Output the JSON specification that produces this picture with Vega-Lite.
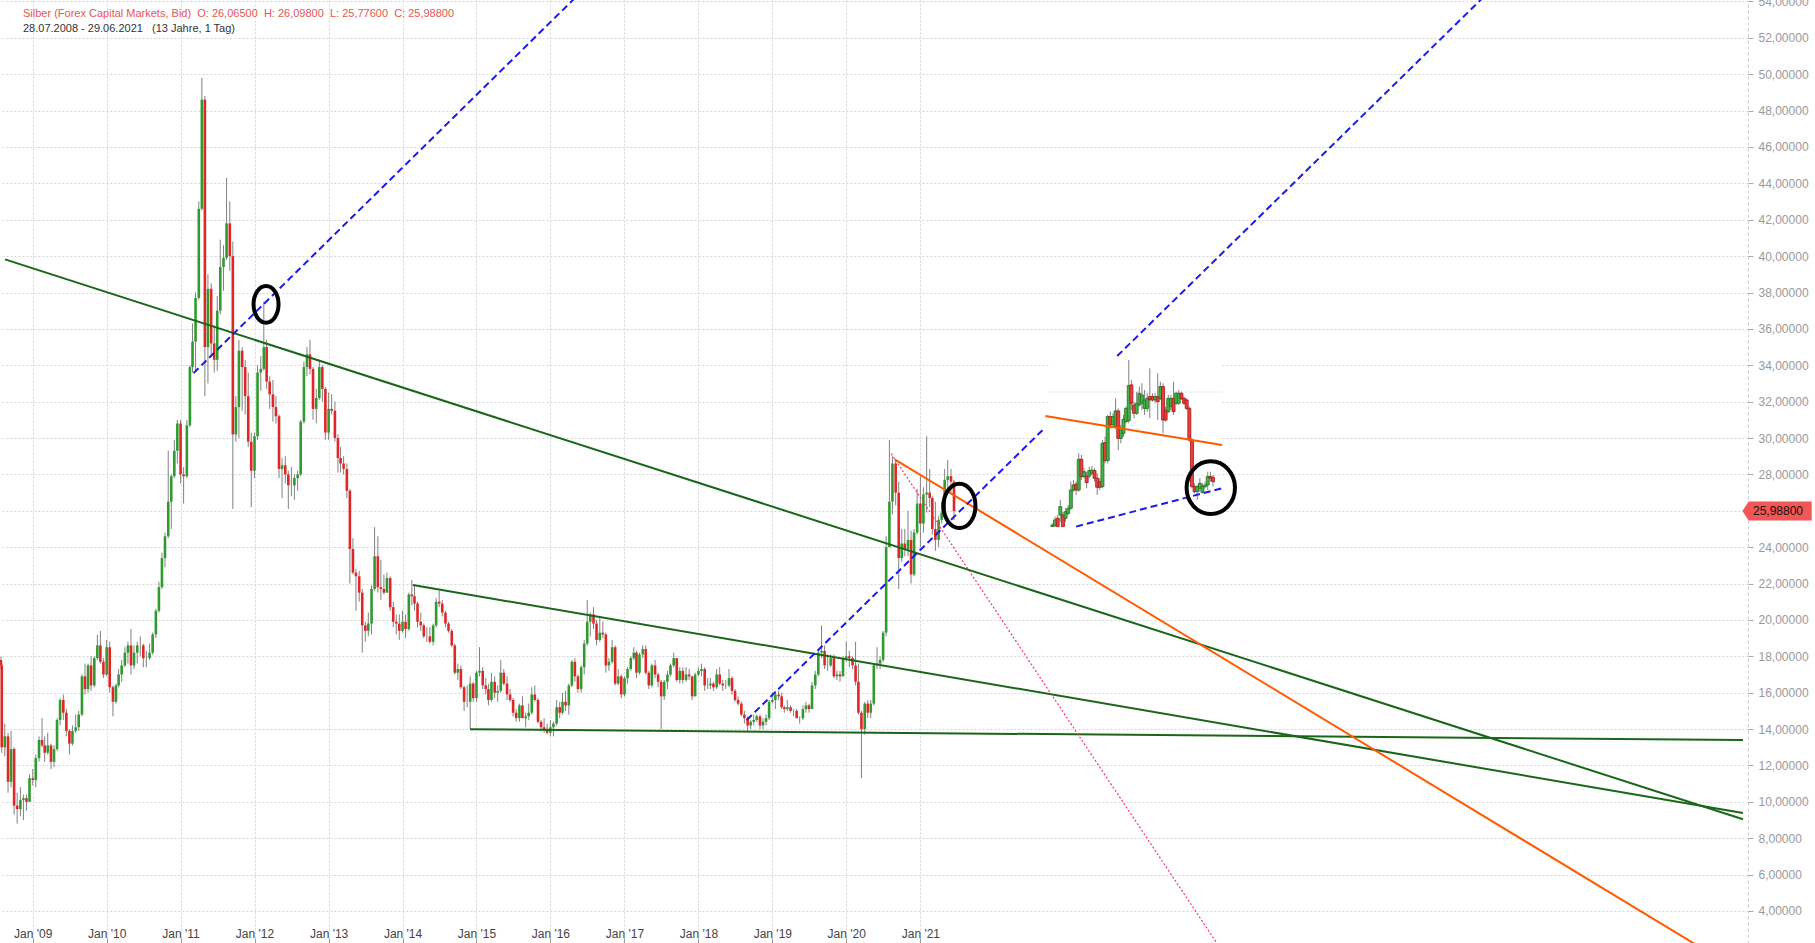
{
"$schema": "https://vega.github.io/schema/vega-lite/v6.json",
"width": 1748, "height": 943,
"autosize": {"type": "none"},
"padding": {"left": 0, "top": 0, "right": 67, "bottom": 0},
"background": "white",
"title": {"text": "Silber (Forex Capital Markets, Bid)\u00a0\u00a0O: 26,06500\u00a0\u00a0H: 26,09800\u00a0\u00a0L: 25,77600\u00a0\u00a0C: 25,98800", "subtitle": "28.07.2008 - 29.06.2021\u00a0\u00a0\u00a0(13 Jahre, 1 Tag)", "anchor": "start", "frame": "group", "orient": "top", "offset": -39, "dx": 23, "font": "Liberation Sans", "fontSize": 11, "fontWeight": "normal", "color": "#e65454", "subtitleFont": "Liberation Sans", "subtitleFontSize": 11, "subtitleColor": "#333333", "subtitlePadding": 4},
"resolve": {"axis": {"y": "independent"}},
"datasets": {
"main": [
{"t":"2008-07-28","o":17.8,"h":18.0,"l":17.3,"c":17.5},
{"t":"2008-08-01","o":17.5,"h":17.6,"l":12.7,"c":13.0},
{"t":"2008-08-16","o":13.0,"h":14.3,"l":12.5,"c":13.6},
{"t":"2008-09-01","o":13.6,"h":13.8,"l":10.5,"c":11.1},
{"t":"2008-09-16","o":11.1,"h":13.9,"l":10.8,"c":12.9},
{"t":"2008-10-01","o":12.9,"h":13.0,"l":9.3,"c":9.8},
{"t":"2008-10-16","o":9.8,"h":10.5,"l":8.8,"c":9.6},
{"t":"2008-11-01","o":9.6,"h":10.8,"l":9.2,"c":10.1},
{"t":"2008-11-16","o":10.1,"h":10.4,"l":9.0,"c":10.2},
{"t":"2008-12-01","o":10.2,"h":10.4,"l":9.5,"c":10.0},
{"t":"2008-12-16","o":10.0,"h":11.5,"l":10.0,"c":11.3},
{"t":"2009-01-01","o":11.3,"h":11.8,"l":10.9,"c":11.2},
{"t":"2009-01-16","o":11.2,"h":12.6,"l":10.8,"c":12.4},
{"t":"2009-02-01","o":12.4,"h":13.6,"l":12.2,"c":13.4},
{"t":"2009-02-16","o":13.4,"h":14.6,"l":13.0,"c":13.1},
{"t":"2009-03-01","o":13.1,"h":13.6,"l":12.2,"c":12.7},
{"t":"2009-03-16","o":12.7,"h":13.8,"l":12.6,"c":13.1},
{"t":"2009-04-01","o":13.1,"h":13.2,"l":11.8,"c":12.2},
{"t":"2009-04-16","o":12.2,"h":13.1,"l":11.9,"c":12.9},
{"t":"2009-05-01","o":12.9,"h":14.6,"l":12.8,"c":14.5},
{"t":"2009-05-16","o":14.5,"h":15.7,"l":14.2,"c":15.6},
{"t":"2009-06-01","o":15.6,"h":15.9,"l":14.5,"c":14.9},
{"t":"2009-06-16","o":14.9,"h":15.1,"l":13.6,"c":13.9},
{"t":"2009-07-01","o":13.9,"h":14.0,"l":12.6,"c":13.2},
{"t":"2009-07-16","o":13.2,"h":14.2,"l":13.1,"c":13.9},
{"t":"2009-08-01","o":13.9,"h":14.8,"l":13.8,"c":14.1},
{"t":"2009-08-16","o":14.1,"h":15.0,"l":13.9,"c":14.8},
{"t":"2009-09-01","o":14.8,"h":17.0,"l":14.7,"c":16.9},
{"t":"2009-09-16","o":16.9,"h":17.6,"l":15.9,"c":16.2},
{"t":"2009-10-01","o":16.2,"h":17.6,"l":16.0,"c":17.5},
{"t":"2009-10-16","o":17.5,"h":18.0,"l":16.1,"c":16.4},
{"t":"2009-11-01","o":16.4,"h":18.0,"l":16.3,"c":17.9},
{"t":"2009-11-16","o":17.9,"h":19.2,"l":17.8,"c":18.6},
{"t":"2009-12-01","o":18.6,"h":19.4,"l":17.6,"c":17.7},
{"t":"2009-12-16","o":17.7,"h":17.9,"l":16.8,"c":17.0},
{"t":"2010-01-01","o":17.0,"h":18.9,"l":16.9,"c":18.5},
{"t":"2010-01-16","o":18.5,"h":18.8,"l":16.0,"c":16.3},
{"t":"2010-02-01","o":16.3,"h":16.4,"l":14.7,"c":15.5},
{"t":"2010-02-16","o":15.5,"h":16.5,"l":15.4,"c":16.4},
{"t":"2010-03-01","o":16.4,"h":17.3,"l":16.3,"c":17.0},
{"t":"2010-03-16","o":17.0,"h":17.8,"l":16.6,"c":17.5},
{"t":"2010-04-01","o":17.5,"h":18.5,"l":17.4,"c":18.2},
{"t":"2010-04-16","o":18.2,"h":18.8,"l":17.6,"c":18.6},
{"t":"2010-05-01","o":18.6,"h":19.5,"l":17.0,"c":17.5},
{"t":"2010-05-16","o":17.5,"h":18.6,"l":17.3,"c":18.2},
{"t":"2010-06-01","o":18.2,"h":18.8,"l":17.6,"c":18.6},
{"t":"2010-06-16","o":18.6,"h":19.1,"l":18.0,"c":18.6},
{"t":"2010-07-01","o":18.6,"h":18.7,"l":17.4,"c":17.9},
{"t":"2010-07-16","o":17.9,"h":18.3,"l":17.4,"c":17.9},
{"t":"2010-08-01","o":17.9,"h":18.7,"l":17.8,"c":18.2},
{"t":"2010-08-16","o":18.2,"h":19.3,"l":18.1,"c":19.2},
{"t":"2010-09-01","o":19.2,"h":20.6,"l":19.0,"c":20.5},
{"t":"2010-09-16","o":20.5,"h":22.1,"l":20.4,"c":21.8},
{"t":"2010-10-01","o":21.8,"h":23.7,"l":21.7,"c":23.4},
{"t":"2010-10-16","o":23.4,"h":24.8,"l":22.9,"c":24.6},
{"t":"2010-11-01","o":24.6,"h":29.3,"l":24.5,"c":26.5},
{"t":"2010-11-16","o":26.5,"h":28.0,"l":25.0,"c":27.9},
{"t":"2010-12-01","o":27.9,"h":29.9,"l":27.8,"c":29.3},
{"t":"2010-12-16","o":29.3,"h":31.0,"l":28.6,"c":30.8},
{"t":"2011-01-01","o":30.8,"h":31.0,"l":27.5,"c":28.0},
{"t":"2011-01-16","o":28.0,"h":28.4,"l":26.4,"c":27.9},
{"t":"2011-02-01","o":27.9,"h":31.0,"l":27.8,"c":30.7},
{"t":"2011-02-16","o":30.7,"h":34.0,"l":30.6,"c":33.9},
{"t":"2011-03-01","o":33.9,"h":36.3,"l":33.6,"c":35.3},
{"t":"2011-03-16","o":35.3,"h":38.0,"l":33.7,"c":37.7},
{"t":"2011-04-01","o":37.7,"h":43.0,"l":37.6,"c":42.6},
{"t":"2011-04-16","o":42.6,"h":49.8,"l":42.5,"c":48.6},
{"t":"2011-05-01","o":48.6,"h":48.8,"l":32.3,"c":35.0},
{"t":"2011-05-16","o":35.0,"h":39.0,"l":33.0,"c":38.2},
{"t":"2011-06-01","o":38.2,"h":38.5,"l":34.5,"c":35.2},
{"t":"2011-06-16","o":35.2,"h":36.2,"l":33.6,"c":34.3},
{"t":"2011-07-01","o":34.3,"h":37.8,"l":33.7,"c":37.0},
{"t":"2011-07-16","o":37.0,"h":40.9,"l":36.8,"c":39.4},
{"t":"2011-08-01","o":39.4,"h":40.6,"l":38.1,"c":39.9},
{"t":"2011-08-16","o":39.9,"h":44.3,"l":39.8,"c":41.8},
{"t":"2011-09-01","o":41.8,"h":43.0,"l":39.2,"c":40.0},
{"t":"2011-09-16","o":40.0,"h":40.8,"l":26.1,"c":30.2},
{"t":"2011-10-01","o":30.2,"h":32.3,"l":29.8,"c":31.7},
{"t":"2011-10-16","o":31.7,"h":35.4,"l":30.0,"c":34.8},
{"t":"2011-11-01","o":34.8,"h":35.0,"l":31.5,"c":33.9},
{"t":"2011-11-16","o":33.9,"h":34.3,"l":31.3,"c":32.3},
{"t":"2011-12-01","o":32.3,"h":33.6,"l":29.5,"c":29.8},
{"t":"2011-12-16","o":29.8,"h":30.3,"l":26.2,"c":28.2},
{"t":"2012-01-01","o":28.2,"h":30.3,"l":27.8,"c":30.1},
{"t":"2012-01-16","o":30.1,"h":34.0,"l":29.9,"c":33.6},
{"t":"2012-02-01","o":33.6,"h":34.5,"l":32.6,"c":33.8},
{"t":"2012-02-16","o":33.8,"h":37.5,"l":33.7,"c":35.0},
{"t":"2012-03-01","o":35.0,"h":35.4,"l":32.7,"c":33.1},
{"t":"2012-03-16","o":33.1,"h":33.4,"l":31.6,"c":32.4},
{"t":"2012-04-01","o":32.4,"h":33.2,"l":30.9,"c":31.7},
{"t":"2012-04-16","o":31.7,"h":32.3,"l":30.8,"c":31.2},
{"t":"2012-05-01","o":31.2,"h":31.3,"l":27.8,"c":28.3},
{"t":"2012-05-16","o":28.3,"h":28.9,"l":26.7,"c":28.5},
{"t":"2012-06-01","o":28.5,"h":29.0,"l":27.5,"c":28.0},
{"t":"2012-06-16","o":28.0,"h":28.2,"l":26.1,"c":27.4},
{"t":"2012-07-01","o":27.4,"h":28.4,"l":26.8,"c":27.4},
{"t":"2012-07-16","o":27.4,"h":28.0,"l":26.6,"c":27.8},
{"t":"2012-08-01","o":27.8,"h":28.2,"l":27.1,"c":28.0},
{"t":"2012-08-16","o":28.0,"h":31.0,"l":27.9,"c":30.9},
{"t":"2012-09-01","o":30.9,"h":34.2,"l":30.8,"c":33.9},
{"t":"2012-09-16","o":33.9,"h":35.0,"l":33.4,"c":34.6},
{"t":"2012-10-01","o":34.6,"h":35.4,"l":33.5,"c":33.8},
{"t":"2012-10-16","o":33.8,"h":33.9,"l":31.0,"c":31.6},
{"t":"2012-11-01","o":31.6,"h":32.7,"l":30.8,"c":32.2},
{"t":"2012-11-16","o":32.2,"h":34.3,"l":32.1,"c":33.9},
{"t":"2012-12-01","o":33.9,"h":34.0,"l":32.0,"c":32.7},
{"t":"2012-12-16","o":32.7,"h":32.8,"l":29.9,"c":30.3},
{"t":"2013-01-01","o":30.3,"h":32.5,"l":29.9,"c":31.6},
{"t":"2013-01-16","o":31.6,"h":32.4,"l":31.3,"c":31.5},
{"t":"2013-02-01","o":31.5,"h":32.0,"l":29.8,"c":30.0},
{"t":"2013-02-16","o":30.0,"h":30.2,"l":28.1,"c":28.9},
{"t":"2013-03-01","o":28.9,"h":29.5,"l":28.1,"c":28.6},
{"t":"2013-03-16","o":28.6,"h":29.0,"l":28.0,"c":28.3},
{"t":"2013-04-01","o":28.3,"h":28.6,"l":26.7,"c":27.1},
{"t":"2013-04-16","o":27.1,"h":27.2,"l":22.0,"c":23.9},
{"t":"2013-05-01","o":23.9,"h":24.5,"l":22.5,"c":22.6},
{"t":"2013-05-16","o":22.6,"h":22.8,"l":20.5,"c":22.4},
{"t":"2013-06-01","o":22.4,"h":22.7,"l":21.0,"c":21.5},
{"t":"2013-06-16","o":21.5,"h":21.7,"l":18.2,"c":19.7},
{"t":"2013-07-01","o":19.7,"h":19.9,"l":18.8,"c":19.4},
{"t":"2013-07-16","o":19.4,"h":20.4,"l":19.1,"c":19.8},
{"t":"2013-08-01","o":19.8,"h":21.9,"l":19.2,"c":21.7},
{"t":"2013-08-16","o":21.7,"h":25.1,"l":21.6,"c":23.5},
{"t":"2013-09-01","o":23.5,"h":24.6,"l":21.5,"c":21.8},
{"t":"2013-09-16","o":21.8,"h":23.3,"l":21.1,"c":21.7},
{"t":"2013-10-01","o":21.7,"h":22.5,"l":21.4,"c":21.5},
{"t":"2013-10-16","o":21.5,"h":22.6,"l":21.5,"c":22.3},
{"t":"2013-11-01","o":22.3,"h":22.4,"l":20.5,"c":20.7},
{"t":"2013-11-16","o":20.7,"h":21.0,"l":19.6,"c":19.9},
{"t":"2013-12-01","o":19.9,"h":20.3,"l":19.2,"c":19.8},
{"t":"2013-12-16","o":19.8,"h":20.3,"l":18.9,"c":19.4},
{"t":"2014-01-01","o":19.4,"h":20.5,"l":19.3,"c":19.9},
{"t":"2014-01-16","o":19.9,"h":20.3,"l":19.0,"c":19.5},
{"t":"2014-02-01","o":19.5,"h":21.5,"l":19.4,"c":21.4},
{"t":"2014-02-16","o":21.4,"h":22.2,"l":20.8,"c":21.3},
{"t":"2014-03-01","o":21.3,"h":21.9,"l":20.5,"c":20.9},
{"t":"2014-03-16","o":20.9,"h":21.0,"l":19.6,"c":19.9},
{"t":"2014-04-01","o":19.9,"h":20.4,"l":19.4,"c":19.7},
{"t":"2014-04-16","o":19.7,"h":19.8,"l":19.0,"c":19.1},
{"t":"2014-05-01","o":19.1,"h":19.6,"l":18.8,"c":19.1},
{"t":"2014-05-16","o":19.1,"h":19.6,"l":18.7,"c":18.8},
{"t":"2014-06-01","o":18.8,"h":19.8,"l":18.6,"c":19.7},
{"t":"2014-06-16","o":19.7,"h":21.2,"l":19.6,"c":21.0},
{"t":"2014-07-01","o":21.0,"h":21.6,"l":20.7,"c":20.9},
{"t":"2014-07-16","o":20.9,"h":21.1,"l":20.2,"c":20.4},
{"t":"2014-08-01","o":20.4,"h":20.5,"l":19.6,"c":19.8},
{"t":"2014-08-16","o":19.8,"h":19.9,"l":19.3,"c":19.4},
{"t":"2014-09-01","o":19.4,"h":19.5,"l":18.5,"c":18.6},
{"t":"2014-09-16","o":18.6,"h":18.7,"l":17.0,"c":17.1},
{"t":"2014-10-01","o":17.1,"h":17.6,"l":16.7,"c":17.3},
{"t":"2014-10-16","o":17.3,"h":17.5,"l":16.2,"c":16.3},
{"t":"2014-11-01","o":16.3,"h":16.4,"l":15.0,"c":15.5},
{"t":"2014-11-16","o":15.5,"h":16.4,"l":15.2,"c":15.5},
{"t":"2014-12-01","o":15.5,"h":16.9,"l":14.0,"c":16.5},
{"t":"2014-12-16","o":16.5,"h":16.6,"l":15.5,"c":15.7},
{"t":"2015-01-01","o":15.7,"h":17.2,"l":15.5,"c":17.1},
{"t":"2015-01-16","o":17.1,"h":18.5,"l":16.9,"c":17.2},
{"t":"2015-02-01","o":17.2,"h":17.4,"l":16.2,"c":16.4},
{"t":"2015-02-16","o":16.4,"h":16.8,"l":15.9,"c":16.2},
{"t":"2015-03-01","o":16.2,"h":16.5,"l":15.3,"c":15.6},
{"t":"2015-03-16","o":15.6,"h":17.1,"l":15.5,"c":16.6},
{"t":"2015-04-01","o":16.6,"h":16.9,"l":15.7,"c":16.0},
{"t":"2015-04-16","o":16.0,"h":16.4,"l":15.5,"c":16.1},
{"t":"2015-05-01","o":16.1,"h":17.8,"l":16.0,"c":17.1},
{"t":"2015-05-16","o":17.1,"h":17.3,"l":16.4,"c":16.5},
{"t":"2015-06-01","o":16.5,"h":16.9,"l":15.6,"c":15.9},
{"t":"2015-06-16","o":15.9,"h":16.2,"l":15.5,"c":15.6},
{"t":"2015-07-01","o":15.6,"h":15.7,"l":14.7,"c":14.9},
{"t":"2015-07-16","o":14.9,"h":15.1,"l":14.4,"c":14.6},
{"t":"2015-08-01","o":14.6,"h":15.4,"l":14.4,"c":15.3},
{"t":"2015-08-16","o":15.3,"h":15.8,"l":14.6,"c":14.6},
{"t":"2015-09-01","o":14.6,"h":14.9,"l":14.1,"c":14.7},
{"t":"2015-09-16","o":14.7,"h":15.4,"l":14.5,"c":14.9},
{"t":"2015-10-01","o":14.9,"h":16.3,"l":14.8,"c":15.9},
{"t":"2015-10-16","o":15.9,"h":16.4,"l":15.5,"c":15.6},
{"t":"2015-11-01","o":15.6,"h":15.7,"l":14.3,"c":14.4},
{"t":"2015-11-16","o":14.4,"h":14.5,"l":13.9,"c":14.1},
{"t":"2015-12-01","o":14.1,"h":14.6,"l":13.8,"c":14.0},
{"t":"2015-12-16","o":14.0,"h":14.3,"l":13.7,"c":13.8},
{"t":"2016-01-01","o":13.8,"h":14.5,"l":13.6,"c":14.1},
{"t":"2016-01-16","o":14.1,"h":14.4,"l":13.6,"c":14.3},
{"t":"2016-02-01","o":14.3,"h":15.6,"l":14.2,"c":15.2},
{"t":"2016-02-16","o":15.2,"h":15.5,"l":14.6,"c":14.9},
{"t":"2016-03-01","o":14.9,"h":16.0,"l":14.8,"c":15.5},
{"t":"2016-03-16","o":15.5,"h":16.1,"l":15.0,"c":15.3},
{"t":"2016-04-01","o":15.3,"h":16.5,"l":14.8,"c":16.4},
{"t":"2016-04-16","o":16.4,"h":17.8,"l":16.3,"c":17.7},
{"t":"2016-05-01","o":17.7,"h":17.9,"l":16.6,"c":16.9},
{"t":"2016-05-16","o":16.9,"h":17.0,"l":16.0,"c":16.2},
{"t":"2016-06-01","o":16.2,"h":17.5,"l":16.0,"c":17.4},
{"t":"2016-06-16","o":17.4,"h":18.9,"l":17.0,"c":18.7},
{"t":"2016-07-01","o":18.7,"h":21.1,"l":18.6,"c":19.9},
{"t":"2016-07-16","o":19.9,"h":20.4,"l":19.1,"c":20.3},
{"t":"2016-08-01","o":20.3,"h":20.7,"l":19.5,"c":19.8},
{"t":"2016-08-16","o":19.8,"h":20.0,"l":18.6,"c":18.9},
{"t":"2016-09-01","o":18.9,"h":20.1,"l":18.8,"c":19.3},
{"t":"2016-09-16","o":19.3,"h":19.9,"l":19.0,"c":19.2},
{"t":"2016-10-01","o":19.2,"h":19.3,"l":17.1,"c":17.5},
{"t":"2016-10-16","o":17.5,"h":17.9,"l":17.2,"c":17.7},
{"t":"2016-11-01","o":17.7,"h":18.9,"l":17.6,"c":18.5},
{"t":"2016-11-16","o":18.5,"h":18.6,"l":16.4,"c":16.5},
{"t":"2016-12-01","o":16.5,"h":17.3,"l":16.4,"c":16.9},
{"t":"2016-12-16","o":16.9,"h":17.0,"l":15.7,"c":15.9},
{"t":"2017-01-01","o":15.9,"h":16.9,"l":15.8,"c":16.8},
{"t":"2017-01-16","o":16.8,"h":17.4,"l":16.5,"c":17.3},
{"t":"2017-02-01","o":17.3,"h":18.0,"l":17.2,"c":17.9},
{"t":"2017-02-16","o":17.9,"h":18.5,"l":17.8,"c":18.2},
{"t":"2017-03-01","o":18.2,"h":18.3,"l":16.8,"c":17.1},
{"t":"2017-03-16","o":17.1,"h":18.2,"l":17.0,"c":18.1},
{"t":"2017-04-01","o":18.1,"h":18.6,"l":17.9,"c":18.4},
{"t":"2017-04-16","o":18.4,"h":18.6,"l":17.0,"c":17.1},
{"t":"2017-05-01","o":17.1,"h":17.2,"l":16.2,"c":16.4},
{"t":"2017-05-16","o":16.4,"h":17.6,"l":16.3,"c":17.5},
{"t":"2017-06-01","o":17.5,"h":17.8,"l":16.8,"c":17.0},
{"t":"2017-06-16","o":17.0,"h":17.1,"l":16.3,"c":16.6},
{"t":"2017-07-01","o":16.6,"h":16.7,"l":14.0,"c":15.8},
{"t":"2017-07-16","o":15.8,"h":16.7,"l":15.6,"c":16.6},
{"t":"2017-08-01","o":16.6,"h":17.2,"l":16.2,"c":17.0},
{"t":"2017-08-16","o":17.0,"h":17.6,"l":16.9,"c":17.5},
{"t":"2017-09-01","o":17.5,"h":18.2,"l":17.4,"c":17.9},
{"t":"2017-09-16","o":17.9,"h":17.9,"l":16.6,"c":16.7},
{"t":"2017-10-01","o":16.7,"h":17.4,"l":16.5,"c":17.2},
{"t":"2017-10-16","o":17.2,"h":17.4,"l":16.5,"c":16.7},
{"t":"2017-11-01","o":16.7,"h":17.4,"l":16.6,"c":17.0},
{"t":"2017-11-16","o":17.0,"h":17.3,"l":16.7,"c":16.9},
{"t":"2017-12-01","o":16.9,"h":16.9,"l":15.6,"c":15.8},
{"t":"2017-12-16","o":15.8,"h":17.1,"l":15.8,"c":17.0},
{"t":"2018-01-01","o":17.0,"h":17.4,"l":16.9,"c":17.2},
{"t":"2018-01-16","o":17.2,"h":17.6,"l":16.9,"c":17.3},
{"t":"2018-02-01","o":17.3,"h":17.4,"l":16.1,"c":16.4},
{"t":"2018-02-16","o":16.4,"h":16.8,"l":16.2,"c":16.4},
{"t":"2018-03-01","o":16.4,"h":16.8,"l":16.2,"c":16.5},
{"t":"2018-03-16","o":16.5,"h":16.6,"l":16.1,"c":16.3},
{"t":"2018-04-01","o":16.3,"h":17.3,"l":16.2,"c":17.0},
{"t":"2018-04-16","o":17.0,"h":17.4,"l":16.4,"c":16.5},
{"t":"2018-05-01","o":16.5,"h":16.7,"l":16.1,"c":16.4},
{"t":"2018-05-16","o":16.4,"h":16.7,"l":16.2,"c":16.4},
{"t":"2018-06-01","o":16.4,"h":17.3,"l":16.3,"c":16.8},
{"t":"2018-06-16","o":16.8,"h":16.9,"l":15.9,"c":16.1},
{"t":"2018-07-01","o":16.1,"h":16.2,"l":15.5,"c":15.6},
{"t":"2018-07-16","o":15.6,"h":15.8,"l":15.3,"c":15.4},
{"t":"2018-08-01","o":15.4,"h":15.5,"l":14.7,"c":14.8},
{"t":"2018-08-16","o":14.8,"h":15.0,"l":14.3,"c":14.6},
{"t":"2018-09-01","o":14.6,"h":14.7,"l":13.9,"c":14.2},
{"t":"2018-09-16","o":14.2,"h":14.5,"l":14.0,"c":14.4},
{"t":"2018-10-01","o":14.4,"h":14.8,"l":14.2,"c":14.5},
{"t":"2018-10-16","o":14.5,"h":14.8,"l":14.4,"c":14.7},
{"t":"2018-11-01","o":14.7,"h":14.8,"l":14.0,"c":14.2},
{"t":"2018-11-16","o":14.2,"h":14.6,"l":14.0,"c":14.4},
{"t":"2018-12-01","o":14.4,"h":14.8,"l":14.2,"c":14.6},
{"t":"2018-12-16","o":14.6,"h":15.6,"l":14.5,"c":15.5},
{"t":"2019-01-01","o":15.5,"h":16.0,"l":15.4,"c":15.6},
{"t":"2019-01-16","o":15.6,"h":16.1,"l":15.1,"c":15.9},
{"t":"2019-02-01","o":15.9,"h":16.1,"l":15.6,"c":15.8},
{"t":"2019-02-16","o":15.8,"h":16.0,"l":15.1,"c":15.2},
{"t":"2019-03-01","o":15.2,"h":15.3,"l":14.9,"c":15.1},
{"t":"2019-03-16","o":15.1,"h":15.6,"l":15.0,"c":15.2},
{"t":"2019-04-01","o":15.2,"h":15.3,"l":14.9,"c":15.0},
{"t":"2019-04-16","o":15.0,"h":15.1,"l":14.7,"c":15.0},
{"t":"2019-05-01","o":15.0,"h":15.1,"l":14.6,"c":14.6},
{"t":"2019-05-16","o":14.6,"h":14.7,"l":14.3,"c":14.6},
{"t":"2019-06-01","o":14.6,"h":15.3,"l":14.5,"c":15.1},
{"t":"2019-06-16","o":15.1,"h":15.5,"l":14.9,"c":15.3},
{"t":"2019-07-01","o":15.3,"h":15.4,"l":14.9,"c":15.1},
{"t":"2019-07-16","o":15.1,"h":16.6,"l":15.1,"c":16.4},
{"t":"2019-08-01","o":16.4,"h":17.2,"l":16.2,"c":17.0},
{"t":"2019-08-16","o":17.0,"h":18.3,"l":16.9,"c":18.2},
{"t":"2019-09-01","o":18.2,"h":19.7,"l":17.9,"c":18.3},
{"t":"2019-09-16","o":18.3,"h":18.6,"l":17.3,"c":17.5},
{"t":"2019-10-01","o":17.5,"h":18.1,"l":17.2,"c":17.5},
{"t":"2019-10-16","o":17.5,"h":18.1,"l":17.4,"c":17.9},
{"t":"2019-11-01","o":17.9,"h":18.1,"l":16.8,"c":16.9},
{"t":"2019-11-16","o":16.9,"h":17.2,"l":16.7,"c":17.0},
{"t":"2019-12-01","o":17.0,"h":17.2,"l":16.6,"c":16.9},
{"t":"2019-12-16","o":16.9,"h":18.0,"l":16.9,"c":17.9},
{"t":"2020-01-01","o":17.9,"h":18.8,"l":17.7,"c":18.0},
{"t":"2020-01-16","o":18.0,"h":18.3,"l":17.4,"c":17.9},
{"t":"2020-02-01","o":17.9,"h":18.0,"l":17.3,"c":17.5},
{"t":"2020-02-16","o":17.5,"h":18.8,"l":16.4,"c":16.6},
{"t":"2020-03-01","o":16.6,"h":17.6,"l":14.8,"c":14.9},
{"t":"2020-03-16","o":14.9,"h":15.0,"l":11.3,"c":14.0},
{"t":"2020-04-01","o":14.0,"h":15.5,"l":13.7,"c":15.4},
{"t":"2020-04-16","o":15.4,"h":15.6,"l":14.6,"c":14.9},
{"t":"2020-05-01","o":14.9,"h":15.6,"l":14.6,"c":15.4},
{"t":"2020-05-16","o":15.4,"h":17.6,"l":15.3,"c":17.5},
{"t":"2020-06-01","o":17.5,"h":18.5,"l":17.3,"c":17.6},
{"t":"2020-06-16","o":17.6,"h":18.0,"l":17.3,"c":17.8},
{"t":"2020-07-01","o":17.8,"h":19.4,"l":17.7,"c":19.3},
{"t":"2020-07-16","o":19.3,"h":24.6,"l":19.1,"c":24.0},
{"t":"2020-08-01","o":24.0,"h":29.9,"l":24.0,"c":26.5},
{"t":"2020-08-16","o":26.5,"h":29.0,"l":25.8,"c":28.6},
{"t":"2020-09-01","o":28.6,"h":28.8,"l":26.3,"c":27.0},
{"t":"2020-09-16","o":27.0,"h":27.6,"l":21.7,"c":23.4},
{"t":"2020-10-01","o":23.4,"h":25.0,"l":23.2,"c":24.2},
{"t":"2020-10-16","o":24.2,"h":25.0,"l":23.5,"c":23.9},
{"t":"2020-11-01","o":23.9,"h":26.0,"l":23.5,"c":24.4},
{"t":"2020-11-16","o":24.4,"h":24.9,"l":22.0,"c":22.5},
{"t":"2020-12-01","o":22.5,"h":25.0,"l":22.4,"c":24.8},
{"t":"2020-12-16","o":24.8,"h":27.2,"l":24.7,"c":26.4},
{"t":"2021-01-01","o":26.4,"h":27.9,"l":24.0,"c":25.3},
{"t":"2021-01-16","o":25.3,"h":27.3,"l":24.8,"c":26.9},
{"t":"2021-02-01","o":26.9,"h":30.1,"l":25.9,"c":27.0},
{"t":"2021-02-16","o":27.0,"h":28.3,"l":26.2,"c":26.7},
{"t":"2021-03-01","o":26.7,"h":26.8,"l":24.7,"c":25.0},
{"t":"2021-03-16","o":25.0,"h":26.5,"l":23.8,"c":24.4},
{"t":"2021-04-01","o":24.4,"h":25.7,"l":24.0,"c":25.5},
{"t":"2021-04-16","o":25.5,"h":26.5,"l":25.3,"c":25.9},
{"t":"2021-05-01","o":25.9,"h":28.3,"l":25.8,"c":27.7},
{"t":"2021-05-16","o":27.7,"h":28.8,"l":27.2,"c":27.9},
{"t":"2021-06-01","o":27.9,"h":28.3,"l":27.0,"c":27.6},
{"t":"2021-06-16","o":27.6,"h":27.7,"l":25.5,"c":25.99}
],
"inset": [
{"t":"2022-10-15","o":25.14,"h":25.31,"l":25.13,"c":25.22},
{"t":"2022-10-28","o":25.17,"h":25.68,"l":25.13,"c":25.5},
{"t":"2022-11-10","o":25.59,"h":25.77,"l":25.13,"c":25.13},
{"t":"2022-11-23","o":25.77,"h":26.6,"l":25.4,"c":26.23},
{"t":"2022-12-06","o":25.77,"h":25.95,"l":25.13,"c":25.13},
{"t":"2022-12-19","o":25.59,"h":26.14,"l":25.4,"c":25.95},
{"t":"2023-01-01","o":25.86,"h":26.32,"l":25.77,"c":26.14},
{"t":"2023-01-14","o":26.14,"h":27.6,"l":26.05,"c":27.14},
{"t":"2023-01-27","o":27.14,"h":27.69,"l":27.05,"c":27.42},
{"t":"2023-02-09","o":27.46,"h":27.6,"l":26.87,"c":27.14},
{"t":"2023-02-22","o":27.14,"h":29.16,"l":27.05,"c":28.83},
{"t":"2023-03-07","o":28.83,"h":29.07,"l":27.69,"c":27.88},
{"t":"2023-03-20","o":27.88,"h":28.34,"l":27.79,"c":28.15},
{"t":"2023-04-02","o":27.91,"h":28.15,"l":27.24,"c":27.55},
{"t":"2023-04-15","o":27.91,"h":28.43,"l":27.79,"c":28.21},
{"t":"2023-04-28","o":28.06,"h":28.46,"l":27.97,"c":28.24},
{"t":"2023-05-11","o":28.21,"h":28.34,"l":27.6,"c":27.79},
{"t":"2023-05-24","o":27.79,"h":28.06,"l":26.87,"c":27.29},
{"t":"2023-06-06","o":27.6,"h":27.79,"l":27.14,"c":27.29},
{"t":"2023-06-19","o":27.33,"h":29.89,"l":27.24,"c":29.71},
{"t":"2023-07-02","o":29.75,"h":30.08,"l":28.61,"c":28.76},
{"t":"2023-07-15","o":28.76,"h":31.27,"l":28.61,"c":31.18},
{"t":"2023-07-28","o":31.18,"h":31.45,"l":30.53,"c":30.72},
{"t":"2023-08-10","o":30.72,"h":31.36,"l":30.59,"c":31.18},
{"t":"2023-08-23","o":30.63,"h":32.18,"l":30.53,"c":31.49},
{"t":"2023-09-05","o":31.49,"h":31.63,"l":29.34,"c":29.98},
{"t":"2023-09-18","o":29.98,"h":30.72,"l":29.71,"c":30.53},
{"t":"2023-10-01","o":30.26,"h":31.27,"l":30.08,"c":31.03},
{"t":"2023-10-14","o":30.9,"h":31.73,"l":30.81,"c":31.63},
{"t":"2023-10-27","o":30.96,"h":34.29,"l":30.81,"c":32.88},
{"t":"2023-11-09","o":32.92,"h":33.19,"l":31.54,"c":31.91},
{"t":"2023-11-22","o":31.82,"h":32.0,"l":31.08,"c":31.36},
{"t":"2023-12-05","o":31.36,"h":32.55,"l":31.27,"c":31.91},
{"t":"2023-12-18","o":31.82,"h":32.83,"l":31.73,"c":32.46},
{"t":"2023-12-31","o":31.91,"h":33.01,"l":31.54,"c":32.37},
{"t":"2024-01-13","o":31.63,"h":32.64,"l":31.27,"c":32.09},
{"t":"2024-01-26","o":31.63,"h":32.46,"l":31.45,"c":32.18},
{"t":"2024-02-08","o":32.28,"h":33.83,"l":31.08,"c":32.09},
{"t":"2024-02-21","o":32.28,"h":32.46,"l":32.0,"c":32.09},
{"t":"2024-03-05","o":32.09,"h":32.46,"l":31.91,"c":32.28},
{"t":"2024-03-18","o":32.28,"h":33.56,"l":30.99,"c":32.0},
{"t":"2024-03-31","o":32.18,"h":33.1,"l":32.09,"c":32.83},
{"t":"2024-04-13","o":32.83,"h":33.01,"l":30.26,"c":30.99},
{"t":"2024-04-26","o":31.54,"h":31.73,"l":30.9,"c":30.99},
{"t":"2024-05-09","o":31.45,"h":32.37,"l":31.36,"c":32.18},
{"t":"2024-05-22","o":31.73,"h":32.37,"l":31.54,"c":32.18},
{"t":"2024-06-04","o":32.18,"h":33.1,"l":31.27,"c":31.45},
{"t":"2024-06-17","o":31.91,"h":32.55,"l":31.82,"c":32.46},
{"t":"2024-06-30","o":31.91,"h":32.64,"l":31.82,"c":32.46},
{"t":"2024-07-13","o":32.46,"h":32.55,"l":32.09,"c":32.18},
{"t":"2024-07-26","o":32.18,"h":32.28,"l":31.82,"c":31.91},
{"t":"2024-08-08","o":32.09,"h":32.18,"l":31.54,"c":31.63},
{"t":"2024-08-21","o":31.63,"h":31.73,"l":29.8,"c":29.89},
{"t":"2024-09-03","o":29.89,"h":29.98,"l":27.24,"c":27.33},
{"t":"2024-09-16","o":27.33,"h":27.51,"l":26.96,"c":27.05},
{"t":"2024-09-29","o":27.05,"h":27.42,"l":26.6,"c":27.33},
{"t":"2024-10-12","o":27.24,"h":27.79,"l":27.05,"c":27.51},
{"t":"2024-10-25","o":27.0,"h":27.51,"l":26.96,"c":27.33},
{"t":"2024-11-07","o":27.33,"h":27.6,"l":27.24,"c":27.42},
{"t":"2024-11-20","o":27.42,"h":28.15,"l":27.14,"c":27.88},
{"t":"2024-12-03","o":27.88,"h":28.15,"l":27.6,"c":27.79},
{"t":"2024-12-16","o":27.84,"h":27.97,"l":27.33,"c":27.6}
],
"lines": [
{"k":"g","id":"A","t":"2008-08-17","v":39.82},
{"k":"g","id":"A","t":"2032-02-15","v":9.04},
{"k":"g","id":"B","t":"2014-02-21","v":21.92},
{"k":"g","id":"B","t":"2032-02-15","v":9.39},
{"k":"g","id":"C","t":"2014-11-30","v":13.99},
{"k":"g","id":"C","t":"2032-02-15","v":13.4},
{"k":"o","id":"D","t":"2020-08-27","v":28.83},
{"k":"o","id":"D","t":"2032-02-15","v":0.58},
{"k":"o","id":"E","t":"2022-09-10","v":31.21},
{"k":"o","id":"E","t":"2025-01-30","v":29.62},
{"k":"p","id":"P","t":"2020-08-10","v":29.14},
{"k":"p","id":"P","t":"2025-03-03","v":1.26},
{"k":"b","id":"B1","t":"2011-03-06","v":33.57},
{"k":"b","id":"B1","t":"2016-09-10","v":55.63},
{"k":"b","id":"B2","t":"2018-08-28","v":14.5},
{"k":"b","id":"B2","t":"2022-09-05","v":30.53},
{"k":"b","id":"B3","t":"2023-08-31","v":34.51},
{"k":"b","id":"B3","t":"2028-10-26","v":55.05},
{"k":"b","id":"B4","t":"2023-02-09","v":25.13},
{"k":"b","id":"B4","t":"2025-01-30","v":27.24},
{"k":"ig","id":"G1","t":"2022-09-30","v":32.53},
{"k":"ig","id":"G1","t":"2025-01-29","v":32.53},
{"k":"ig","id":"G2","t":"2022-09-30","v":27.97},
{"k":"ig","id":"G2","t":"2025-01-29","v":27.97}
],
"circles": [
{"id":"c1","t":"2012-02-27","v":37.35},
{"id":"c2","t":"2021-07-13","v":26.27},
{"id":"c3","t":"2024-12-05","v":27.27}
],
"insetbg": [
{"t":"2022-09-30","t2":"2025-01-29","v":34.4,"v2":25.06}
],
"tag": [
{"t":"2032-08-01","v":25.988,"label":"25,98800"}
]
},
"encoding": {
"x": {"field": "t", "type": "temporal", "title": null,
 "scale": {"type": "utc",
  "domain": [{"year":2008,"month":8,"date":17,"utc":true}, {"year":2032,"month":2,"date":15,"utc":true}]},
 "axis": {
  "values": [
   {"year":2009,"month":1,"date":1,"utc":true},
   {"year":2010,"month":1,"date":1,"utc":true},
   {"year":2011,"month":1,"date":1,"utc":true},
   {"year":2012,"month":1,"date":1,"utc":true},
   {"year":2013,"month":1,"date":1,"utc":true},
   {"year":2014,"month":1,"date":1,"utc":true},
   {"year":2015,"month":1,"date":1,"utc":true},
   {"year":2016,"month":1,"date":1,"utc":true},
   {"year":2017,"month":1,"date":1,"utc":true},
   {"year":2018,"month":1,"date":1,"utc":true},
   {"year":2019,"month":1,"date":1,"utc":true},
   {"year":2020,"month":1,"date":1,"utc":true},
   {"year":2021,"month":1,"date":1,"utc":true}
  ],
  "labelExpr": "utcFormat(datum.value, \"%b '%y\")",
  "domain": false, "tickSize": -5, "tickColor": "#9a9a9a",
  "labelPadding": -10, "labelColor": "#444444", "labelFontSize": 12, "labelFont": "Liberation Sans",
  "labelOverlap": false, "labelFlush": false,
  "grid": true, "gridColor": "#d6d6d6", "gridDash": [2, 2]
 }
}
},
"layer": [
{"data": {"name": "insetbg"}, "mark": {"type": "rect", "fill": "white"},
 "encoding": {"x2": {"field": "t2"}, "y": {"field": "v", "type": "quantitative", "title": null, "scale": {"domain": [2.24, 54.08], "nice": false, "zero": false},
  "axis": {"orient": "right", "values": [4,6,8,10,12,14,16,18,20,22,24,26,28,30,32,34,36,38,40,42,44,46,48,50,52,54],
   "labelExpr": "replace(format(datum.value, '.5f'), '.', ',')",
   "tickSize": 5, "tickColor": "#aaaaaa", "domainColor": "#c8c8c8", "domainDash": [3, 3],
   "labelColor": "#999999", "labelFontSize": 12, "labelFont": "Liberation Sans", "labelPadding": 5,
   "labelOverlap": false, "labelFlush": false, "labelBound": false, "labelSeparation": 0,
   "grid": true, "gridColor": "#d6d6d6", "gridDash": [2, 2]}},
  "y2": {"field": "v2"}}},
{"data": {"name": "lines"}, "transform": [{"filter": "datum.k == 'ig'"}], "mark": {"type": "line", "color": "#d6d6d6", "strokeWidth": 1, "strokeDash": [2, 2]},
 "encoding": {"y": {"field": "v", "type": "quantitative", "title": null, "scale": {"domain": [2.24, 54.08], "nice": false, "zero": false}, "axis": null}, "detail": {"field": "id"}}},
{"data": {"name": "main"}, "mark": {"type": "rule", "color": "#808080", "strokeWidth": 1},
 "encoding": {"y": {"field": "l", "type": "quantitative", "title": null, "scale": {"domain": [2.24, 54.08], "nice": false, "zero": false}, "axis": null}, "y2": {"field": "h"}}},
{"data": {"name": "main"}, "mark": {"type": "bar", "size": 2.6},
 "encoding": {"y": {"field": "o", "type": "quantitative", "title": null, "scale": {"domain": [2.24, 54.08], "nice": false, "zero": false}, "axis": null}, "y2": {"field": "c"},
  "color": {"condition": {"test": "datum.c >= datum.o", "value": "#2f9a2f"}, "value": "#e02626"}}},
{"data": {"name": "inset"}, "mark": {"type": "rule", "color": "#808080", "strokeWidth": 1},
 "encoding": {"y": {"field": "l", "type": "quantitative", "title": null, "scale": {"domain": [2.24, 54.08], "nice": false, "zero": false}, "axis": null}, "y2": {"field": "h"}}},
{"data": {"name": "inset"}, "mark": {"type": "bar", "size": 3, "strokeWidth": 0.8},
 "encoding": {"y": {"field": "o", "type": "quantitative", "title": null, "scale": {"domain": [2.24, 54.08], "nice": false, "zero": false}, "axis": null}, "y2": {"field": "c"},
  "fill": {"condition": {"test": "datum.c >= datum.o", "value": "#45b045"}, "value": "#f03c3c"},
  "stroke": {"condition": {"test": "datum.c >= datum.o", "value": "#1f701f"}, "value": "#a01818"}}},
{"data": {"name": "lines"}, "transform": [{"filter": "datum.k == 'g'"}], "mark": {"type": "line", "color": "#196619", "strokeWidth": 2, "clip": true},
 "encoding": {"y": {"field": "v", "type": "quantitative", "title": null, "scale": {"domain": [2.24, 54.08], "nice": false, "zero": false}, "axis": null}, "detail": {"field": "id"}}},
{"data": {"name": "lines"}, "transform": [{"filter": "datum.k == 'p'"}], "mark": {"type": "line", "color": "#ff3366", "strokeWidth": 1.2, "strokeDash": [2, 2], "clip": true},
 "encoding": {"y": {"field": "v", "type": "quantitative", "title": null, "scale": {"domain": [2.24, 54.08], "nice": false, "zero": false}, "axis": null}, "detail": {"field": "id"}}},
{"data": {"name": "lines"}, "transform": [{"filter": "datum.k == 'o'"}], "mark": {"type": "line", "color": "#ff5a00", "strokeWidth": 2, "clip": true},
 "encoding": {"y": {"field": "v", "type": "quantitative", "title": null, "scale": {"domain": [2.24, 54.08], "nice": false, "zero": false}, "axis": null}, "detail": {"field": "id"}}},
{"data": {"name": "lines"}, "transform": [{"filter": "datum.k == 'b'"}], "mark": {"type": "line", "color": "#1a1aee", "strokeWidth": 2, "strokeDash": [7, 4], "clip": true},
 "encoding": {"y": {"field": "v", "type": "quantitative", "title": null, "scale": {"domain": [2.24, 54.08], "nice": false, "zero": false}, "axis": null}, "detail": {"field": "id"}}},
{"data": {"name": "circles"}, "mark": {"type": "point", "filled": false, "size": 100, "color": "#000000", "strokeWidth": 4, "opacity": 1},
 "encoding": {"y": {"field": "v", "type": "quantitative", "title": null, "scale": {"domain": [2.24, 54.08], "nice": false, "zero": false}, "axis": null},
  "shape": {"field": "id", "type": "nominal", "legend": null, "scale": {"domain": ["c1", "c2", "c3"], "range": [
   "M -2.5 0 A 2.5 3.66 0 1 1 2.5 0 A 2.5 3.66 0 1 1 -2.5 0 Z",
   "M -3.2 0 A 3.2 4.44 0 1 1 3.2 0 A 3.2 4.44 0 1 1 -3.2 0 Z",
   "M -4.84 0 A 4.84 5.27 0 1 1 4.84 0 A 4.84 5.27 0 1 1 -4.84 0 Z"]}}}},
{"data": {"name": "tag"}, "mark": {"type": "point", "filled": true, "size": 100, "shape": "M -6.93 0 L -5.67 -1.9 L 6.93 -1.9 L 6.93 1.9 L -5.67 1.9 Z", "color": "#f25656", "opacity": 1},
 "encoding": {"y": {"field": "v", "type": "quantitative", "title": null, "scale": {"domain": [2.24, 54.08], "nice": false, "zero": false}, "axis": null}}},
{"data": {"name": "tag"}, "mark": {"type": "text", "align": "center", "baseline": "middle", "dx": 1, "fontSize": 12, "font": "Liberation Sans", "color": "#111111"},
 "encoding": {"y": {"field": "v", "type": "quantitative", "title": null, "scale": {"domain": [2.24, 54.08], "nice": false, "zero": false}, "axis": null}, "text": {"field": "label"}}}
],
"config": {"view": {"stroke": null}, "font": "Liberation Sans", "axis": {"labelOverlap": false, "labelFlush": false, "labelSeparation": 0}, "axisY": {"labelOverlap": false}}
}
